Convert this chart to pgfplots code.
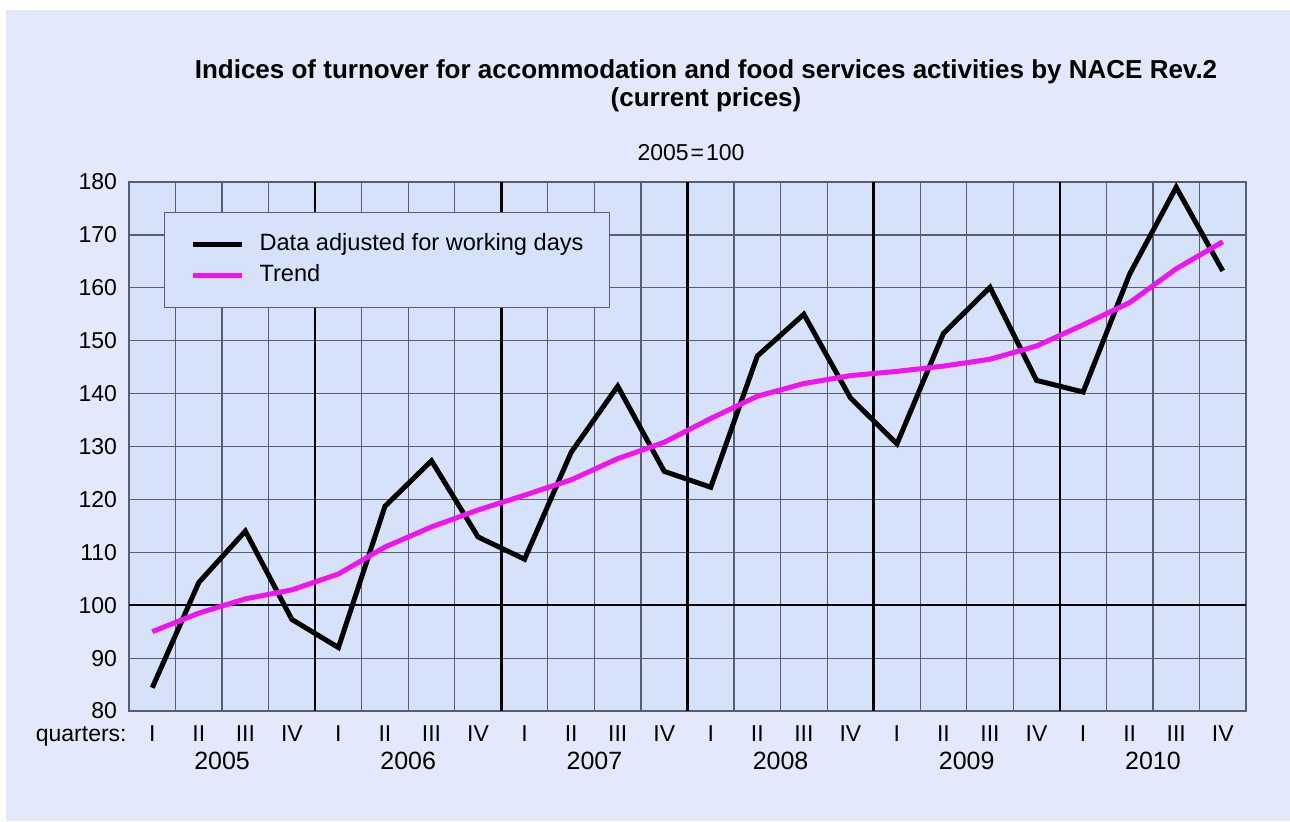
\documentclass[border=0pt]{standalone}
\usepackage{fontspec}
\setmainfont{Liberation Sans}
\usepackage{pgfplots}
\usepackage{pgfplotstable}
\pgfplotsset{compat=1.18}

\definecolor{bgout}{RGB}{227,233,250}
\definecolor{bgplot}{RGB}{214,226,250}
\definecolor{gridc}{RGB}{88,94,112}
\definecolor{trend}{RGB}{240,20,240}

% quarter index, data adjusted for working days, trend
\pgfplotstableread{
q  d      t
0  84.4   95.0
1  104.3  98.5
2  114.0  101.2
3  97.3   102.9
4  92.0   105.9
5  118.7  111.0
6  127.3  114.8
7  112.9  118.0
8  108.7  120.8
9  128.9  123.7
10 141.4  127.7
11 125.3  130.8
12 122.3  135.3
13 147.1  139.5
14 155.0  141.9
15 139.2  143.4
16 130.5  144.2
17 151.4  145.2
18 160.1  146.5
19 142.5  149.0
20 140.3  153.0
21 162.6  157.2
22 179.0  163.6
23 163.2  168.7
}\turnover

\begin{document}
\begin{tikzpicture}[x=1pt,y=1pt]
\fill[white] (0,0) rectangle (645,410.5);
\fill[bgout] (3,0) rectangle (645,405.5);
\useasboundingbox (0,0) rectangle (645,410.5);

\node[font=\fontsize{13}{14}\selectfont\bfseries, align=center] at (353,367.5)
  {Indices of turnover for accommodation and food services activities by NACE Rev.2\\(current prices)};
\node[font=\fontsize{11.5}{13}\selectfont] at (345.5,334) {2005\kern1pt=\kern1pt100};

\begin{axis}[at={(64.5pt,55pt)}, anchor=south west,
    width=558.5pt, height=264.5pt, scale only axis,
    xmin=-0.5, xmax=23.5, ymin=80, ymax=180,
    axis background/.style={fill=bgplot},
    axis line style={gridc, line width=0.6pt},
    xtick={0,...,23},
    xticklabels={I,II,III,IV,I,II,III,IV,I,II,III,IV,I,II,III,IV,I,II,III,IV,I,II,III,IV},
    minor xtick={0.5,1.5,...,22.5},
    ytick={80,90,...,180},
    major tick length=0pt, minor tick length=0pt,
    xminorgrids=true, ymajorgrids=true,
    minor grid style={gridc, line width=0.6pt},
    major grid style={gridc, line width=0.6pt},
    extra x ticks={3.5,7.5,11.5,15.5,19.5}, extra x tick labels={},
    extra x tick style={grid=major, major grid style={black, line width=1.2pt}},
    extra y ticks={100}, extra y tick labels={},
    extra y tick style={grid=major, major grid style={black, line width=1.2pt}},
    tick label style={font=\fontsize{11.5}{13}\selectfont},
    /pgf/number format/assume math mode=true,
    xticklabel style={anchor=base, yshift=-15pt},
    yticklabel style={xshift=-2.5pt},
    clip=false,
    legend style={at={(rel axis cs:0.0313,0.943)}, anchor=north west,
        fill=bgplot, draw=gridc, line width=0.6pt,
        font=\fontsize{11.8}{13}\selectfont,
        inner xsep=13pt, inner ysep=10.5pt, row sep=4.5pt, column sep=7.5pt,
        nodes={inner sep=0pt, text height=8.5pt, text depth=2.5pt}},
    legend cell align=left,
    legend image code/.code={\draw[#1] (0pt,0pt) -- (24.5pt,0pt);},
]
\addplot[black, line width=2.5pt] table[x=q, y=d] {\turnover};
\addlegendentry{Data adjusted for working days}
\addplot[trend, line width=2.5pt, line join=round] table[x=q, y=t] {\turnover};
\addlegendentry{Trend}

\node[anchor=base east, inner sep=0pt, font=\fontsize{11.5}{13}\selectfont] at (rel axis cs:0,0) [xshift=-1pt, yshift=-15pt] {quarters:};
\foreach \yr/\pos in {2005/1.5, 2006/5.5, 2007/9.5, 2008/13.5, 2009/17.5, 2010/21.5}
  {\edef\tmp{\noexpand\node[anchor=base, font=\noexpand\fontsize{12.5}{14}\noexpand\selectfont] at (axis cs:\pos,80) [yshift=-29pt] {\yr};}\tmp}
\end{axis}
\end{tikzpicture}
\end{document}
